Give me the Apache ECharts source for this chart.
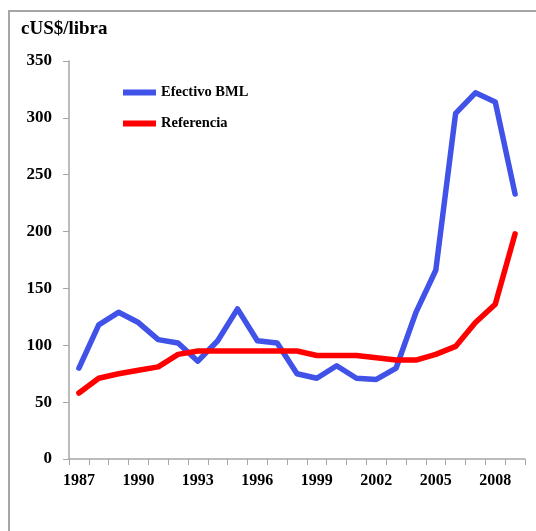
<!DOCTYPE html>
<html>
<head>
<meta charset="utf-8">
<script src="https://cdn.jsdelivr.net/npm/echarts@6/dist/echarts.min.js"></script>
<style>
html,body{margin:0;padding:0;background:#fff;}
#c{width:536px;height:531px;}
</style>
</head>
<body>
<div id="c"></div>
<script>
const years = ['1987','1988','1989','1990','1991','1992','1993','1994','1995','1996','1997','1998','1999','2000','2001','2002','2003','2004','2005','2006','2007','2008','2009'];
const efectivoBML = [80,118,129,120,105,102,86,104,132,104,102,75,71,82,71,70,80,129,166,304,322,314,233];
const referencia = [58,71,75,78,81,92,95,95,95,95,95,95,91,91,91,89,87,87,92,99,120,136,198];
const yTicks = {min:0, max:350, interval:50};

const chart = echarts.init(document.getElementById('c'), null, {renderer:'canvas'});
const font = 'Liberation Serif';
chart.setOption({
  animation:false,
  backgroundColor:'#ffffff',
  title:{
    text:'cUS$/libra', left:21, top:20, padding:0,
    textStyle:{fontFamily:font, fontWeight:'bold', fontSize:19, color:'#000'}
  },
  legend:{
    left:123, top:84, orient:'vertical', itemGap:14, padding:0,
    icon:'rect', itemWidth:33, itemHeight:6,
    textStyle:{fontFamily:font, fontWeight:'bold', fontSize:14.5, color:'#000', lineHeight:17},
    data:['Efectivo BML','Referencia']
  },
  grid:{left:69, right:11, top:61, bottom:72, containLabel:false},
  xAxis:{
    type:'category', data:years, boundaryGap:true,
    axisLine:{lineStyle:{color:'#a6a6a6', width:1.5}},
    axisTick:{show:true, interval:0, length:6, lineStyle:{color:'#a6a6a6'}},
    axisLabel:{interval:2, margin:14, fontFamily:font, fontWeight:'bold', fontSize:16, color:'#000'},
    splitLine:{show:false}
  },
  yAxis:{
    type:'value', min:yTicks.min, max:yTicks.max, interval:yTicks.interval,
    axisLine:{show:true, lineStyle:{color:'#a6a6a6', width:1.5}},
    axisTick:{show:true, length:6, lineStyle:{color:'#a6a6a6'}},
    axisLabel:{margin:17, fontFamily:font, fontWeight:'bold', fontSize:17, color:'#000'},
    splitLine:{show:false}
  },
  series:[
    {name:'Efectivo BML', type:'line', data:efectivoBML, symbol:'none', color:'#4152E8',
     lineStyle:{width:5.5, color:'#4152E8', cap:'round', join:'round'}},
    {name:'Referencia', type:'line', data:referencia, symbol:'none', color:'#FF0000',
     lineStyle:{width:5.5, color:'#FF0000', cap:'round', join:'round'}}
  ],
  graphic:[
    {type:'polyline', shape:{points:[[9,531],[9,11],[536,11]]}, style:{stroke:'#a6a6a6', lineWidth:2, fill:null}, silent:true}
  ]
});
</script>
</body>
</html>
